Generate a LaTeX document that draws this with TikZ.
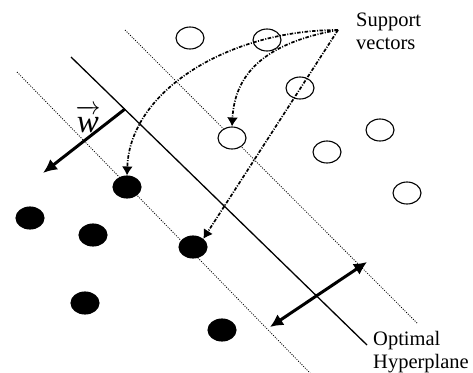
\documentclass[tikz,border=0pt]{standalone}
\usepackage{fontspec}
\setmainfont{Liberation Serif}
\usetikzlibrary{shapes.geometric,arrows.meta}
\begin{document}
\begin{tikzpicture}[x=1pt,y=-1pt,
  dot/.style={ellipse,draw=black,line width=1.1pt,minimum width=28pt,minimum height=22pt,inner sep=0pt},
  negdot/.style={dot,fill=black},
  posdot/.style={dot,fill=white},
  margin/.style={line width=0.8pt,dash pattern=on 1pt off 1.4pt},
  hyper/.style={line width=1.3pt},
  pointer/.style={line width=1.7pt,dash pattern=on 3.5pt off 1.5pt on 1pt off 1.5pt,
    -{Latex[length=9pt,width=11pt]}},
  bold/.style={line width=3pt},
  lbl/.style={font=\fontsize{20.5}{23}\selectfont,align=left,inner sep=0pt}]
\useasboundingbox (0,0) rectangle (473,372);

% margin and separating lines
\coordinate (m1a) at (17,72);   \coordinate (m1b) at (310,373);
\coordinate (hpa) at (71,57);   \coordinate (hpb) at (367,345);
\coordinate (m2a) at (125,30);  \coordinate (m2b) at (417,323);
\draw[margin] (m1a) -- (m1b);
\draw[hyper] (hpa) -- (hpb);
\draw[margin] (m2a) -- (m2b);

% class +1 (open)
\node[posdot] (p1) at (190,38) {};
\node[posdot] (p2) at (267,40) {};
\node[posdot] (p3) at (300,88) {};
\node[posdot] (p4) at (232,138) {};
\node[posdot] (p5) at (380,130) {};
\node[posdot] (p6) at (327,152) {};
\node[posdot] (p7) at (407,193) {};

% class -1 (filled)
\node[negdot] (n1) at (127,187) {};
\node[negdot] (n2) at (30,218) {};
\node[negdot] (n3) at (93,235) {};
\node[negdot] (n4) at (193,247) {};
\node[negdot] (n5) at (85,303) {};
\node[negdot] (n6) at (222,330) {};

% normal vector w
\coordinate (w0) at (125,109);
\coordinate (w1) at (43,173);
\draw[bold,-{Latex[length=14pt,width=13pt]}] (w0) -- (w1);
\node[inner sep=0pt] (wl) at (88,119)
  {\fontsize{33}{33}\selectfont$\overrightarrow{\mbox{\itshape w}\rule{0pt}{0.56em}}$};

% margin width
\coordinate (d0) at (367,262);
\coordinate (d1) at (270,327);
\draw[bold,{Latex[length=13pt,width=13pt]}-{Latex[length=13pt,width=13pt]}] (d1) -- (d0);

% labels
\node[lbl,anchor=north west] (sv) at (356,13) {Support\\vectors};
\node[lbl,anchor=north west] (op) at (373,331) {Optimal\\Hyperplane};

% pointers to the support vectors
\coordinate (src) at (338,30);
\draw[pointer] (src) .. controls (230,30) and (130,90) .. (n1.north);
\draw[pointer] (src) .. controls (270,42) and (235,70) .. (p4.north);
\draw[pointer] (src) -- (n4.north east);
\end{tikzpicture}
\end{document}
